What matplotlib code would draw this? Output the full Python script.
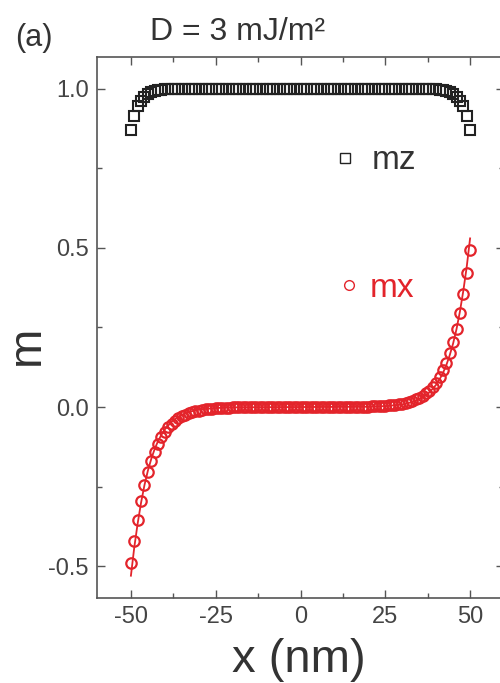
import matplotlib
matplotlib.use("Agg")
import matplotlib.pyplot as plt
from matplotlib.ticker import MultipleLocator
from matplotlib.lines import Line2D

plt.rcParams['font.family'] = ['Liberation Sans', 'DejaVu Sans']
plt.rcParams['axes.unicode_minus'] = False

# position along the track (nm)
x_pos = list(range(-50, 51))

# in-plane component mx
mx = [-0.490, -0.420, -0.355, -0.295, -0.245, -0.205, -0.170, -0.140, -0.115, -0.094,
      -0.077, -0.063, -0.052, -0.043, -0.035, -0.029, -0.024, -0.020, -0.016, -0.013,
      -0.011, -0.009, -0.007, -0.006, -0.005, -0.004, -0.003, -0.003, -0.002, -0.002,
      -0.001, -0.001, -0.001, -0.001, 0.000, 0.000, 0.000, 0.000, 0.000, 0.000,
      0.000, 0.000, 0.000, 0.000, 0.000, 0.000, 0.000, 0.000, 0.000, 0.000,
      0.000,
      0.000, 0.000, 0.000, 0.000, 0.000, 0.000, 0.000, 0.000, 0.000, 0.000,
      0.000, 0.000, 0.000, 0.000, 0.000, 0.000, 0.001, 0.001, 0.001, 0.001,
      0.002, 0.002, 0.003, 0.003, 0.004, 0.005, 0.006, 0.007, 0.009, 0.011,
      0.013, 0.016, 0.020, 0.024, 0.029, 0.035, 0.043, 0.052, 0.063, 0.077,
      0.094, 0.115, 0.140, 0.170, 0.205, 0.245, 0.295, 0.355, 0.420, 0.495]

# out-of-plane component mz
mz = [0.870, 0.915, 0.945, 0.963, 0.975, 0.984, 0.989, 0.993, 0.995, 0.997,
      0.998, 0.999, 0.999, 1.000, 1.000, 1.000, 1.000, 1.000, 1.000, 1.000,
      1.000, 1.000, 1.000, 1.000, 1.000, 1.000, 1.000, 1.000, 1.000, 1.000,
      1.000, 1.000, 1.000, 1.000, 1.000, 1.000, 1.000, 1.000, 1.000, 1.000,
      1.000, 1.000, 1.000, 1.000, 1.000, 1.000, 1.000, 1.000, 1.000, 1.000,
      1.000,
      1.000, 1.000, 1.000, 1.000, 1.000, 1.000, 1.000, 1.000, 1.000, 1.000,
      1.000, 1.000, 1.000, 1.000, 1.000, 1.000, 1.000, 1.000, 1.000, 1.000,
      1.000, 1.000, 1.000, 1.000, 1.000, 1.000, 1.000, 1.000, 1.000, 1.000,
      1.000, 1.000, 1.000, 1.000, 1.000, 1.000, 1.000, 0.999, 0.999, 0.998,
      0.997, 0.995, 0.993, 0.989, 0.984, 0.975, 0.963, 0.945, 0.915, 0.870]

# analytic fit of mx
x_fit = [-50, -49, -48, -47, -46, -45, -44, -43, -42, -41, -40, -38, -36, -34, -32,
         -30, -25, -20, 0, 20, 25, 30, 32, 34, 36, 38, 40, 41, 42, 43, 44, 45, 46,
         47, 48, 49, 50]
mx_fit = [-0.530, -0.440, -0.365, -0.300, -0.245, -0.200, -0.163, -0.132, -0.107,
          -0.087, -0.070, -0.046, -0.030, -0.020, -0.013, -0.008, -0.003, -0.001,
          0.000, 0.001, 0.003, 0.008, 0.013, 0.020, 0.030, 0.046, 0.070, 0.087,
          0.107, 0.132, 0.163, 0.200, 0.245, 0.300, 0.365, 0.440, 0.530]

x_ticks = [-50, -25, 0, 25, 50]
y_ticks = [-0.5, 0.0, 0.5, 1.0]

red = '#e3242b'
black = '#222222'
grey = '#555555'
text_col = '#333333'

fig = plt.figure(figsize=(5.0, 6.83), dpi=100)
ax = fig.add_axes([0.194, 0.1245, 0.814, 0.792])

ax.plot(x_pos, mz, linestyle='none', marker='s', markersize=6.5,
        markerfacecolor='none', markeredgecolor=black, markeredgewidth=1.5)
ax.plot(x_pos, mx, linestyle='none', marker='o', markersize=7.5,
        markerfacecolor='none', markeredgecolor=red, markeredgewidth=1.6)
ax.plot(x_fit, mx_fit, color=red, linewidth=1.3)

ax.set_xlim(-60, 60)
ax.set_ylim(-0.6, 1.1)
ax.set_xticks(x_ticks)
ax.set_yticks(y_ticks)
ax.xaxis.set_minor_locator(MultipleLocator(12.5))
ax.yaxis.set_minor_locator(MultipleLocator(0.25))
ax.tick_params(which='both', direction='in', top=True, right=True,
               colors=grey, labelcolor='#444444', width=1.0)
ax.tick_params(which='major', length=6, labelsize=17, pad=6)
ax.tick_params(which='minor', length=3.5)
for s in ax.spines.values():
    s.set_color(grey)
    s.set_linewidth(1.2)

ax.set_xlabel('x (nm)', fontsize=34, color=text_col)
ax.xaxis.set_label_coords(0.495, -0.115)
ax.xaxis.label.set_va('center')
ax.set_ylabel('m', fontsize=34, color=text_col)
ax.yaxis.set_label_coords(-0.172, 0.467)
ax.yaxis.label.set_va('center')

h_mz = Line2D([], [], linestyle='none', marker='s', markersize=7,
              markerfacecolor='none', markeredgecolor=black, markeredgewidth=1.0)
h_mx = Line2D([], [], linestyle='none', marker='o', markersize=7,
              markerfacecolor='none', markeredgecolor=red, markeredgewidth=1.0)
leg1 = ax.legend([h_mz], ['mz'], loc='center left', bbox_to_anchor=(0.585, 0.808),
                 frameon=False, fontsize=24, handlelength=0.6, handletextpad=0.51,
                 borderpad=0, borderaxespad=0, labelcolor=text_col)
ax.add_artist(leg1)
ax.legend([h_mx], ['mx'], loc='center left', bbox_to_anchor=(0.595, 0.573),
          frameon=False, fontsize=24, handlelength=0.6, handletextpad=0.33,
          borderpad=0, borderaxespad=0, labelcolor=red)

fig.text(0.067, 0.945, '(a)', fontsize=22, color=text_col, ha='center', va='center')
fig.text(0.476, 0.953, 'D = 3 mJ/m²', fontsize=23, color=text_col, ha='center', va='center')

fig.savefig('out.png', dpi=100)
